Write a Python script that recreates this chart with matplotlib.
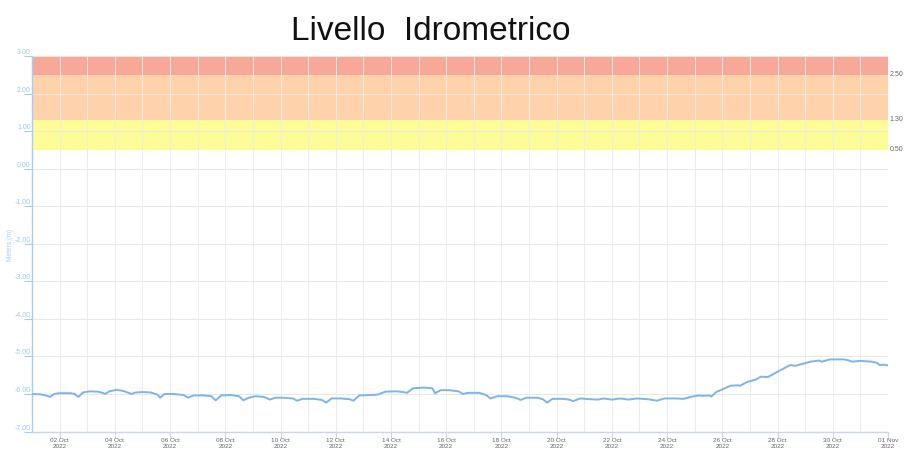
import matplotlib
matplotlib.use("Agg")
import matplotlib.pyplot as plt
import matplotlib.dates as mdates
import numpy as np
import pandas as pd

plt.rcParams['font.family'] = ['Liberation Sans', 'DejaVu Sans']

# time offsets in days from 2022-10-01 00:00 and water level (m)
offsets = [0.0, 0.3, 0.55, 0.65, 0.8, 1.0, 1.4, 1.55, 1.68, 1.85, 2.1, 2.4, 2.55, 2.65, 2.8,
           3.07, 3.3, 3.5, 3.6, 3.75, 4.0, 4.3, 4.55, 4.64, 4.8, 5.1, 5.5, 5.65, 5.85, 6.2,
           6.5, 6.65, 6.85, 7.2, 7.5, 7.65, 7.85, 8.1, 8.4, 8.62, 8.8, 9.1, 9.45, 9.6, 9.8,
           10.2, 10.5, 10.65, 10.85, 11.2, 11.5, 11.64, 11.85, 12.2, 12.5, 12.8, 13.2, 13.45,
           13.58, 13.8, 14.2, 14.5, 14.6, 14.8, 15.1, 15.45, 15.6, 15.8, 16.2, 16.45, 16.6,
           16.85, 17.2, 17.5, 17.7, 17.9, 18.3, 18.5, 18.65, 18.85, 19.2, 19.45, 19.6, 19.85,
           20.2, 20.5, 20.7, 21.0, 21.3, 21.6, 21.9, 22.3, 22.63, 22.9, 23.3, 23.6, 23.85,
           24.14, 24.3, 24.55, 24.6, 24.8, 25.0, 25.3, 25.55, 25.65, 25.9, 26.2, 26.4, 26.65,
           27.1, 27.46, 27.65, 28.2, 28.5, 28.6, 28.9, 29.4, 29.55, 29.7, 30.0, 30.4, 30.6,
           30.7, 30.85, 31.0]
levels = [-6.00, -6.01, -6.05, -6.08, -6.00, -5.98, -5.98, -6.00, -6.08, -5.96, -5.93, -5.94, -5.97, -6.00, -5.93,
          -5.89, -5.92, -5.97, -6.00, -5.96, -5.95, -5.96, -6.02, -6.10, -6.00, -6.00, -6.03, -6.10, -6.04, -6.04,
          -6.06, -6.17, -6.04, -6.03, -6.06, -6.17, -6.10, -6.06, -6.08, -6.15, -6.10, -6.10, -6.12, -6.18, -6.13,
          -6.13, -6.16, -6.23, -6.12, -6.12, -6.14, -6.18, -6.04, -6.03, -6.02, -5.94, -5.93, -5.95,
          -5.97, -5.85, -5.83, -5.85, -5.98, -5.90, -5.90, -5.93, -6.00, -5.97, -5.97, -6.03, -6.12,
          -6.06, -6.06, -6.10, -6.16, -6.10, -6.10, -6.14, -6.23, -6.13, -6.13, -6.15, -6.19, -6.12,
          -6.14, -6.15, -6.12, -6.15, -6.12, -6.15, -6.12, -6.14, -6.18, -6.12, -6.12, -6.13, -6.08,
          -6.04, -6.05, -6.04, -6.07, -5.94, -5.88, -5.78, -5.77, -5.78, -5.68, -5.62, -5.54, -5.55,
          -5.37, -5.23, -5.25, -5.14, -5.11, -5.14, -5.08, -5.08, -5.10, -5.14, -5.12, -5.14, -5.17,
          -5.23, -5.22, -5.24]

# threshold bands (lower, upper, colour)
band_lows = [2.5, 1.3, 0.5]
band_highs = [3.0, 2.5, 1.3]
band_colors = ['#f7a899', '#fed3ab', '#fdfd98']
threshold_labels = ['2.50', '1.30', '0.50']
threshold_values = [2.5, 1.3, 0.5]

# labelled x ticks
tick_dates = ['2022-10-02', '2022-10-04', '2022-10-06', '2022-10-08', '2022-10-10', '2022-10-12',
              '2022-10-14', '2022-10-16', '2022-10-18', '2022-10-20', '2022-10-22', '2022-10-24',
              '2022-10-26', '2022-10-28', '2022-10-30', '2022-11-01']

start = pd.Timestamp('2022-10-01')
end = pd.Timestamp('2022-11-01')
times = start + pd.to_timedelta(offsets, unit='D')

fig = plt.figure(figsize=(9.06, 4.51), dpi=100)
ax = fig.add_axes([32/906, (451-431.5)/451, (888-32)/906, (431.5-56)/451])

for lo, hi, c in zip(band_lows, band_highs, band_colors):
    ax.axhspan(lo, hi, color=c, zorder=0, lw=0)

ax.plot(times, levels, color='#7cb5ec', lw=1.4, zorder=3)

ax.set_xlim(start, end)
ax.set_ylim(-7, 3)
ax.set_yticks(np.arange(-7, 3.01, 1))
ax.set_yticklabels([f'{v:.2f}' for v in np.arange(-7, 3.01, 1)])

ax.set_xticks(mdates.date2num(pd.to_datetime(tick_dates)))
ax.xaxis.set_minor_locator(mdates.DayLocator())
ax.xaxis.set_major_formatter(mdates.DateFormatter('%d %b\n%Y'))

ax.grid(True, which='both', axis='x', color='#ececec', lw=0.7)
ax.grid(True, which='major', axis='y', color='#e8e8e8', lw=0.7)
for gl in ax.get_xgridlines() + ax.get_ygridlines():
    gl.set_zorder(1)

for s in ['top', 'right']:
    ax.spines[s].set_visible(False)
ax.spines['left'].set_color('#a9cdf3')
ax.spines['left'].set_linewidth(1.0)
ax.spines['bottom'].set_color('#ccd6eb')
ax.spines['bottom'].set_linewidth(1.0)

ax.tick_params(axis='y', which='major', length=6, color='#a9cdf3', labelcolor='#9fc6ef',
               labelsize=5, pad=-5)
for lab in ax.get_yticklabels():
    lab.set_verticalalignment('bottom')
ax.tick_params(axis='x', which='major', length=4, color='#ccd6eb', labelcolor='#666666',
               labelsize=4.6, pad=1)
ax.tick_params(axis='x', which='minor', length=0)
for lab in ax.get_xticklabels():
    lab.set_linespacing(1.2)

ax.set_ylabel('Meters (m)', color='#a9cdf3', fontsize=4.8)
ax.yaxis.set_label_coords(-0.021, 0.497)

for lbl, v in zip(threshold_labels, threshold_values):
    ax.text(1.002, v, lbl, transform=ax.get_yaxis_transform(), color='#666666',
            fontsize=5, va='center', ha='left')

fig.text(431/906, 1 - 32/451, 'Livello  Idrometrico', fontsize=24, ha='center', va='center', color='#111111')

fig.savefig('out.png', dpi=100)
